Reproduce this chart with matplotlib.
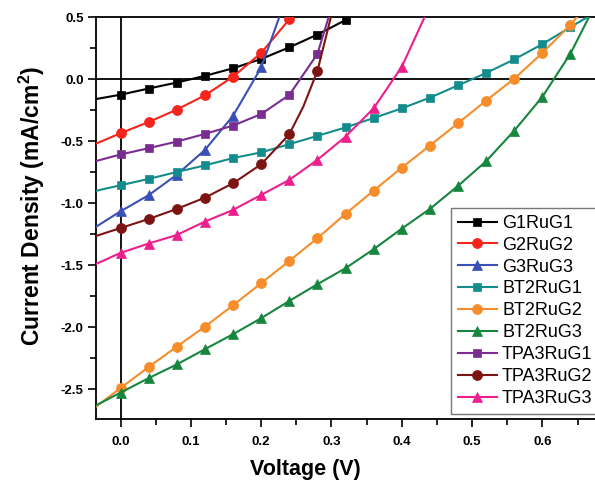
import matplotlib
matplotlib.use("Agg")
import matplotlib.pyplot as plt
from matplotlib.ticker import MultipleLocator, FormatStrFormatter

plt.rcParams['font.family'] = ['Liberation Sans', 'DejaVu Sans']
plt.rcParams['axes.unicode_minus'] = False
plt.rcParams['mathtext.fontset'] = 'custom'
plt.rcParams['mathtext.rm'] = 'Liberation Sans'
plt.rcParams['mathtext.bf'] = 'Liberation Sans:bold'

# ---- data (Voltage in V, current density in mA/cm^2) ----
v_G1RuG1 = [-0.035, 0.00, 0.04, 0.08, 0.12, 0.16, 0.20, 0.24, 0.28, 0.32]
j_G1RuG1 = [-0.16, -0.125, -0.075, -0.027, 0.027, 0.088, 0.163, 0.257, 0.360, 0.477]

v_G2RuG2 = [-0.035, 0.00, 0.04, 0.08, 0.12, 0.16, 0.20, 0.24, 0.245]
j_G2RuG2 = [-0.52, -0.435, -0.345, -0.245, -0.130, 0.020, 0.212, 0.483, 0.52]

v_G3RuG3 = [-0.035, 0.00, 0.04, 0.08, 0.12, 0.16, 0.20, 0.227]
j_G3RuG3 = [-1.19, -1.065, -0.935, -0.770, -0.570, -0.295, 0.095, 0.52]

v_BT2RuG1 = [-0.035, 0.00, 0.04, 0.08, 0.12, 0.16, 0.20, 0.24, 0.28, 0.32,
             0.36, 0.40, 0.44, 0.48, 0.52, 0.56, 0.60, 0.64, 0.670]
j_BT2RuG1 = [-0.90, -0.855, -0.804, -0.748, -0.695, -0.636, -0.590, -0.524, -0.457,
             -0.389, -0.313, -0.235, -0.149, -0.050, 0.050, 0.160, 0.283, 0.420, 0.52]

v_BT2RuG2 = [-0.035, 0.00, 0.04, 0.08, 0.12, 0.16, 0.20, 0.24, 0.28, 0.32,
             0.36, 0.40, 0.44, 0.48, 0.52, 0.56, 0.60, 0.64, 0.652]
j_BT2RuG2 = [-2.64, -2.49, -2.32, -2.156, -1.995, -1.823, -1.645, -1.465, -1.282,
             -1.086, -0.898, -0.713, -0.535, -0.355, -0.172, 0.004, 0.212, 0.438, 0.52]

v_BT2RuG3 = [-0.035, 0.00, 0.04, 0.08, 0.12, 0.16, 0.20, 0.24, 0.28, 0.32,
             0.36, 0.40, 0.44, 0.48, 0.52, 0.56, 0.60, 0.64, 0.668]
j_BT2RuG3 = [-2.63, -2.527, -2.41, -2.30, -2.177, -2.056, -1.927, -1.788, -1.653,
             -1.524, -1.371, -1.205, -1.046, -0.860, -0.661, -0.415, -0.142, 0.207, 0.52]

v_TPA3RuG1 = [-0.035, 0.00, 0.04, 0.08, 0.12, 0.16, 0.20, 0.24, 0.28, 0.297]
j_TPA3RuG1 = [-0.66, -0.607, -0.556, -0.503, -0.441, -0.374, -0.281, -0.127, 0.204, 0.52]

v_TPA3RuG2 = [-0.035, 0.00, 0.04, 0.08, 0.12, 0.16, 0.20, 0.24, 0.26, 0.28, 0.300]
j_TPA3RuG2 = [-1.264, -1.200, -1.127, -1.046, -0.955, -0.839, -0.686, -0.444, -0.22, 0.067, 0.52]

v_TPA3RuG3 = [-0.035, 0.00, 0.04, 0.08, 0.12, 0.16, 0.20, 0.24, 0.28, 0.32, 0.36, 0.40, 0.434]
j_TPA3RuG3 = [-1.49, -1.400, -1.325, -1.256, -1.148, -1.054, -0.933, -0.812, -0.650,
              -0.463, -0.234, 0.100, 0.52]

labels = ['G1RuG1', 'G2RuG2', 'G3RuG3', 'BT2RuG1', 'BT2RuG2', 'BT2RuG3',
          'TPA3RuG1', 'TPA3RuG2', 'TPA3RuG3']
voltages = [v_G1RuG1, v_G2RuG2, v_G3RuG3, v_BT2RuG1, v_BT2RuG2, v_BT2RuG3,
            v_TPA3RuG1, v_TPA3RuG2, v_TPA3RuG3]
currents = [j_G1RuG1, j_G2RuG2, j_G3RuG3, j_BT2RuG1, j_BT2RuG2, j_BT2RuG3,
            j_TPA3RuG1, j_TPA3RuG2, j_TPA3RuG3]
colors = ['#000000', '#f5241c', '#3a50b4', '#148c8c', '#f78d2a', '#16863f',
          '#7a2d91', '#7d1414', '#ec1f8c']
markers = ['s', 'o', '^', 's', 'o', '^', 's', 'o', '^']
msizes = [6.3, 7.2, 7.6, 6.3, 7.2, 7.6, 6.3, 7.2, 7.6]

fig = plt.figure(figsize=(5.95, 4.84), dpi=100)
ax = fig.add_axes([96 / 595, 65 / 484, 502.6 / 595, 401.8 / 484])

ax.axhline(0, color='black', lw=1.3, zorder=1)
ax.axvline(0, color='black', lw=1.3, zorder=1)

for v, j, lab, c, m, ms in zip(voltages, currents, labels, colors, markers, msizes):
    marks = [i for i, x in enumerate(v)
             if x >= 0 and abs(round(x / 0.04) * 0.04 - x) < 1e-9]
    ax.plot(v, j, color=c, lw=1.5, marker=m, ms=ms, markevery=marks,
            markeredgecolor=c, markeredgewidth=0.5, label=lab, zorder=3)

ax.set_xlim(-0.035, 0.68)
ax.set_ylim(-2.74, 0.5)

ax.xaxis.set_major_locator(MultipleLocator(0.1))
ax.xaxis.set_minor_locator(MultipleLocator(0.05))
ax.yaxis.set_major_locator(MultipleLocator(0.5))
ax.yaxis.set_minor_locator(MultipleLocator(0.25))
ax.xaxis.set_major_formatter(FormatStrFormatter('%.1f'))
ax.yaxis.set_major_formatter(FormatStrFormatter('%.1f'))

ax.tick_params(which='both', direction='out', top=False, right=False, width=1.2)
ax.tick_params(which='major', length=6, labelsize=9.5, pad=3)
ax.tick_params(which='minor', length=4)
for lbl in ax.get_xticklabels() + ax.get_yticklabels():
    lbl.set_fontweight('bold')
ax.tick_params(axis='x', pad=6)

for s in ax.spines.values():
    s.set_linewidth(1.3)

ax.set_xlabel('Voltage (V)', fontsize=15.5, fontweight='bold')
ax.set_ylabel(r'Current Density (mA/cm$\mathbf{^2}$)', fontsize=16.5, fontweight='bold')
ax.xaxis.set_label_coords((305 - 96) / 502.6, (419 - 459) / 401.8)
ax.yaxis.set_label_coords((47 - 96) / 502.6, (419 - 206) / 401.8)

leg = ax.legend(loc='upper left', bbox_to_anchor=((451 - 96) / 502.6, (419 - 208) / 401.8),
                borderaxespad=0, fontsize=13, frameon=True, fancybox=False,
                handlelength=2.15, handletextpad=0.3, labelspacing=0.27,
                borderpad=0.38)
leg.get_frame().set_edgecolor('#555555')
leg.get_frame().set_linewidth(1.0)

fig.savefig('out.png', dpi=100)
